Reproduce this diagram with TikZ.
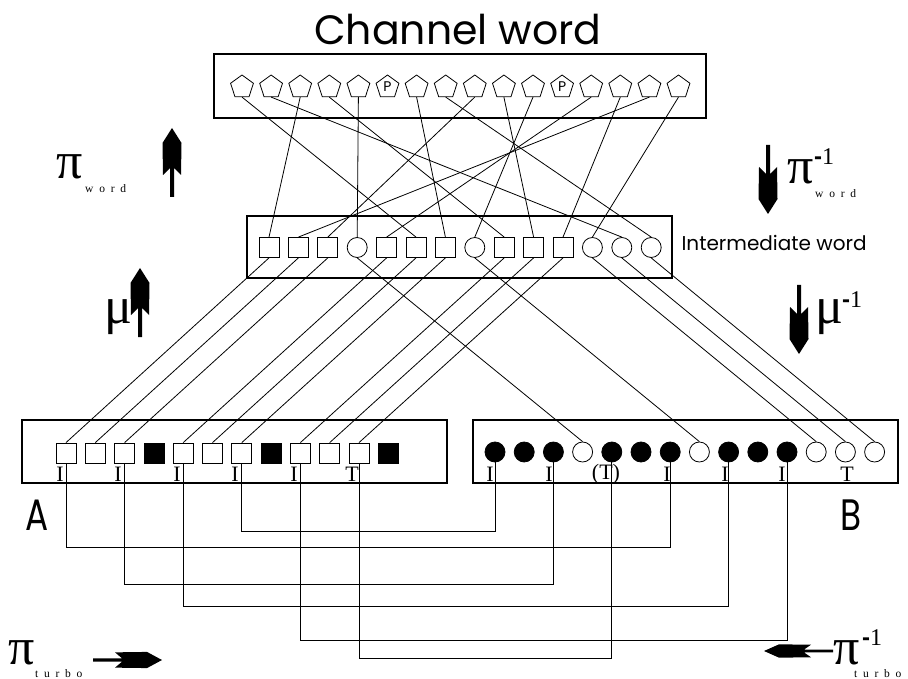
\documentclass[tikz,border=0pt]{standalone}
\usepackage{fontspec}
\setmainfont{Liberation Serif}
\newfontfamily\geofont{Poppins}
\newfontfamily\narrowfont[FakeStretch=0.78]{Poppins}
\newfontfamily\heavy{Liberation Sans}
\newfontfamily\spaced[LetterSpace=50]{Liberation Serif}
\usetikzlibrary{shapes.geometric}

\tikzset{
  sqr/.style={draw, line width=0.8pt, minimum size=20pt, inner sep=0pt},
  blk/.style={sqr, fill=black},
  rnd/.style={draw, line width=0.8pt, circle, minimum size=20pt, inner sep=0pt},
  fdot/.style={rnd, fill=black},
  pent/.style={draw, line width=0.8pt, regular polygon, regular polygon sides=5,
    minimum size=24pt, inner sep=0pt, font=\geofont\fontsize{14}{14}\selectfont},
  fatarrow/.pic={\fill (0,-2) -- (29,-2) -- (22,-9) -- (54,-9.5) -- (69,0)
    -- (54,9.5) -- (22,9) -- (29,2) -- (0,2) -- cycle;}
}
\newcommand{\minusone}{{\heavy\bfseries -}1}

\begin{document}
\begin{tikzpicture}[x=1pt, y=-1pt,
    panel/.style={draw, line width=1.2pt, inner sep=0pt},
    link/.style={line width=0.8pt},
    tag/.style={inner sep=0pt, font=\fontsize{22}{22}\selectfont},
    greek/.style={inner sep=0pt, font=\fontsize{52}{52}\selectfont},
    sub/.style={inner sep=0pt, anchor=west, font=\spaced\fontsize{11.5}{11.5}\selectfont},
    sup/.style={inner sep=0pt, anchor=west, font=\fontsize{24}{24}\selectfont}]
  \useasboundingbox (0,0) rectangle (908,679);

  \node[font=\geofont\fontsize{41}{41}\selectfont] (chantitle) at (458,30) {Channel word};
  \node[panel, minimum width=492pt, minimum height=64pt] (chanbox) at (460,86) {};
  \node[panel, minimum width=425pt, minimum height=62pt] (midbox) at (459.5,247) {};
  \node[anchor=west, font=\geofont\fontsize{20}{20}\selectfont] (midtitle) at (678,243) {Intermediate word};
  \node[panel, minimum width=425pt, minimum height=63pt] (boxA) at (234.5,451.5) {};
  \node[panel, minimum width=425pt, minimum height=63pt] (boxB) at (685.5,451.5) {};
  \node[font=\narrowfont\fontsize{44}{44}\selectfont] (nameA) at (37,515) {A};
  \node[font=\narrowfont\fontsize{44}{44}\selectfont] (nameB) at (851,515) {B};

  \foreach \k in {0,...,15}
    \node[pent] (pen\k) at (242+29.1*\k,87) {\ifnum\k=5 P\fi\ifnum\k=11 P\fi};
  \foreach \t [count=\k from 0] in {sqr,sqr,sqr,rnd,sqr,sqr,sqr,rnd,sqr,sqr,sqr,rnd,rnd,rnd}
    \node[\t] (mid\k) at (269+29.4*\k,247.5) {};
  \foreach \t [count=\k from 0] in {sqr,sqr,sqr,blk,sqr,sqr,sqr,blk,sqr,sqr,sqr,blk}
    \node[\t] (a\k) at (66+29.3*\k,453) {};
  \foreach \t [count=\k from 0] in {fdot,fdot,fdot,rnd,fdot,fdot,fdot,rnd,fdot,fdot,fdot,rnd,rnd,rnd}
    \node[\t] (b\k) at (495+29.2*\k,452) {};

  \foreach \x/\s [count=\n] in {60/I,118/I,177/I,235/I,294/I,352/T}
    \node[tag] (tagA\n) at (\x,474.5) {\s};
  \foreach \x/\s [count=\n] in {490/I,549/I,606/(T),667/I,725/I,782/I,847/T}
    \node[tag] (tagB\n) at (\x,474.5) {\s};

  % word interleaver
  \foreach \m/\p in {0/2,1/14,2/8,3/4,4/12,5/0,6/6,7/10,8/3,9/9,10/13,11/15,12/1,13/7}
    \draw[link] (pen\p.south) -- (mid\m.north);
  % mux
  \foreach \m in {0,1,2,4,5,6,8,9,10}
    \draw[link] (mid\m.south) -- (a\m.north);
  \foreach \m in {3,7,11,12,13}
    \draw[link] (mid\m.south) -- (b\m.north);
  % turbo interleaver
  \foreach \i/\j/\y in {0/6/547,2/2/584,4/8/606,6/0/531,8/10/640,10/4/658}
    \draw[link] (a\i.south) -- (a\i.south |- 0,\y) -| (b\j.south);

  \node[greek] (piword) at (70,167) {π};
  \node[sub] (piwordsub) at (85,189) {word};
  \pic[rotate=90] at (172,197) {fatarrow};
  \node[greek] (piinvword) at (801,172) {π};
  \node[sup] (piinvwordsup) at (814,157) {\minusone};
  \node[sub] (piinvwordsub) at (815,194) {word};
  \pic[rotate=-90] at (768,145) {fatarrow};

  \node[greek] (mu) at (118,317) {μ};
  \pic[rotate=90] at (140,337) {fatarrow};
  \node[greek] (muinv) at (829,317) {μ};
  \node[sup] (muinvsup) at (842,300) {\minusone};
  \pic[rotate=-90] at (799,285) {fatarrow};

  \node[greek] (piturbo) at (22,653) {π};
  \node[sub] (piturbosub) at (35,674) {turbo};
  \pic[yscale=0.85] at (93,660) {fatarrow};
  \node[greek] (piinvturbo) at (847,653) {π};
  \node[sup] (piinvturbosup) at (862,638) {\minusone};
  \node[sub] (piinvturbosub) at (854,674) {turbo};
  \pic[rotate=180, yscale=0.7] at (833,651) {fatarrow};
\end{tikzpicture}
\end{document}
